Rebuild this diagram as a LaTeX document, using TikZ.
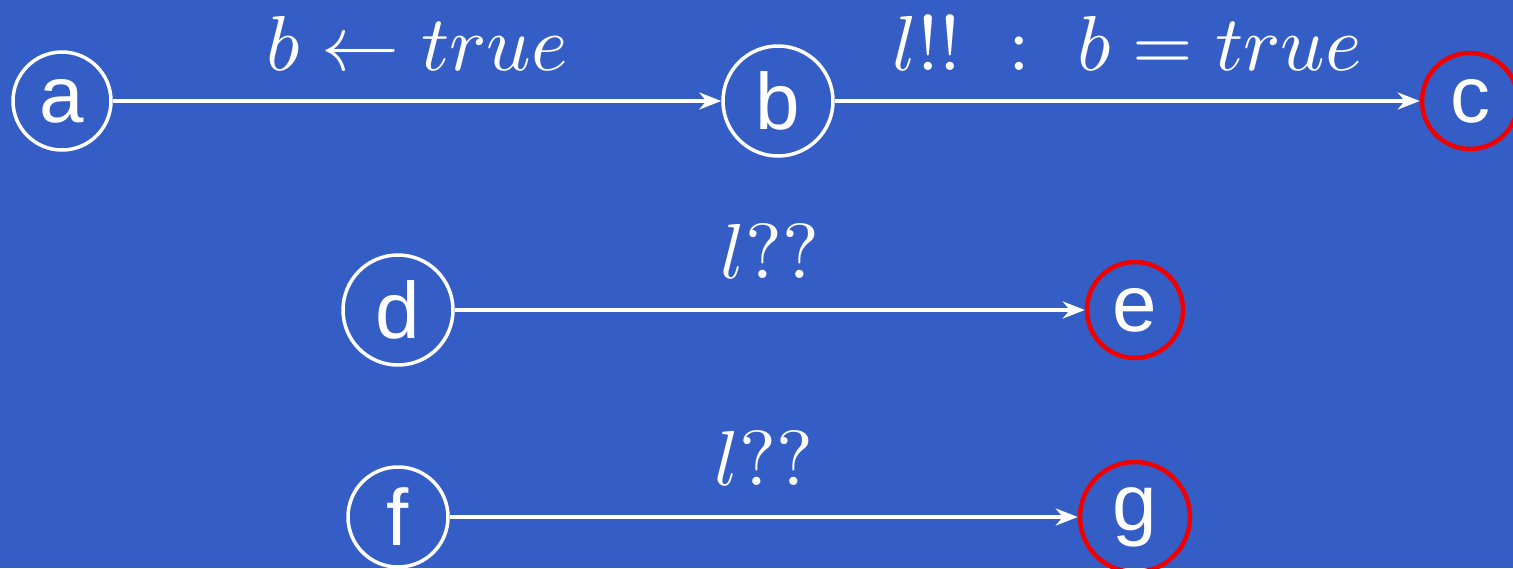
\documentclass[tikz,border=0pt]{standalone}
\usepackage{fontspec}
\setsansfont{Liberation Sans}
\usetikzlibrary{arrows.meta}
\definecolor{bg}{RGB}{52,94,198}
\definecolor{fin}{RGB}{240,0,0}
\tikzset{
  st/.style={circle, draw=white, line width=3.5pt, inner sep=0pt, text=white,
    font=\sffamily\fontsize{80}{90}\selectfont},
  stfin/.style={st, draw=fin, line width=4.5pt},
  edge/.style={white, line width=3.5pt, -{Stealth[length=22pt,width=17pt,inset=7pt]}},
  lbl/.style={midway, anchor=base, text=white, inner sep=0pt, scale=7.8}
}
\begin{document}
\begin{tikzpicture}[x=1pt,y=1pt]
\fill[bg] (0,0) rectangle (1513,-568);
\useasboundingbox (0,0) rectangle (1513,-568);
\node[st, minimum size=98pt] (a) at (62,-101) {a};
\node[st, minimum size=110pt] (b) at (778,-101) {b};
\node[stfin, minimum size=96pt] (c) at (1470,-101) {c};
\node[st, minimum size=110pt] (d) at (398,-310) {d};
\node[stfin, minimum size=96pt] (e) at (1135,-310) {e};
\node[st, minimum size=100pt] (f) at (398,-517) {f};
\node[stfin, minimum size=110pt] (g) at (1135,-517) {g};
\draw[edge] (a) -- node[yshift=31pt, lbl] {$b \leftarrow true$} (b);
\draw[edge] (b) -- node[yshift=31pt, lbl] {$l!!\ :\ b = true$} (c);
\draw[edge] (d) -- node[yshift=32pt, lbl] {$l??$} (e);
\draw[edge] (f) -- node[yshift=32pt, lbl] {$l??$} (g);
\end{tikzpicture}
\end{document}
